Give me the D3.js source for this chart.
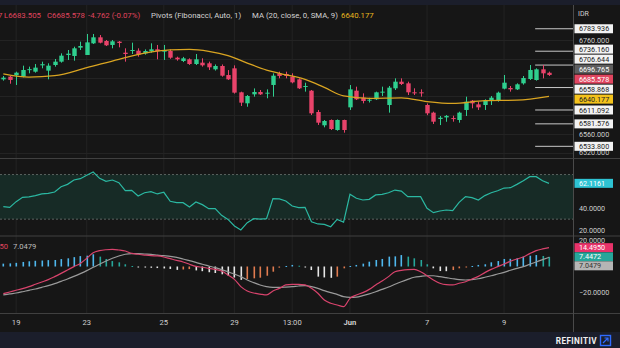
<!DOCTYPE html>
<html><head><meta charset="utf-8">
<script src="https://cdn.jsdelivr.net/npm/d3@7"></script>
<style>html,body{margin:0;padding:0;background:#161616;overflow:hidden}svg{display:block}text{font-family:Roboto,"Noto Sans",sans-serif}</style>
</head><body><svg id="c" width="620" height="348"></svg>
<script>
// ---------- DATA ----------
const opens=[6676.3,6682.0,6685.0,6682.0,6697.0,6692.6,6706.1,6694.8,6706.8,6713.9,6728.1,6726.0,6743.7,6728.1,6752.9,6765.7,6757.9,6749.4,6756.5,6733.0,6737.3,6737.3,6731.6,6735.9,6740.2,6735.2,6736.6,6722.4,6715.3,6718.9,6708.9,6711.8,6710.4,6697.6,6704.7,6685.5,6699.7,6648.7,6625.3,6644.4,6649.4,6646.5,6664.3,6689.0,6687.7,6682.0,6676.3,6660.7,6652.2,6606.8,6578.5,6589.8,6568.5,6589.8,6616.7,6652.2,6637.3,6631.0,6633.8,6648.7,6621.7,6657.2,6671.3,6667.8,6648.7,6648.7,6621.7,6605.4,6592.0,6595.3,6593.9,6589.8,6611.1,6630.9,6623.0,6621.7,6630.9,6632.3,6656.5,6657.9,6655.0,6667.8,6677.0,6674.9,6697.6,6690.3];
const highs=[6683.4,6683.4,6692.6,6705.4,6703.3,6708.9,6713.9,6710.4,6719.6,6731.6,6738.7,6745.8,6756.5,6772.8,6772.8,6770.6,6760.0,6760.0,6757.9,6742.3,6754.3,6742.3,6740.0,6752.9,6749.4,6749.4,6740.0,6724.5,6724.0,6721.0,6730.2,6721.0,6714.0,6708.0,6708.0,6696.0,6706.0,6650.0,6643.0,6657.0,6653.6,6655.0,6689.0,6692.6,6692.6,6689.1,6678.4,6669.2,6653.6,6611.1,6589.8,6591.0,6591.0,6590.5,6664.2,6660.7,6646.5,6637.0,6650.1,6660.7,6662.1,6678.4,6678.4,6671.3,6657.2,6655.0,6625.0,6607.5,6598.3,6600.4,6598.9,6607.5,6639.4,6632.3,6628.8,6633.8,6640.8,6650.1,6685.5,6662.1,6667.8,6683.4,6706.8,6699.7,6706.8,6692.7];
const lows=[6673.5,6667.0,6664.3,6680.6,6689.1,6690.5,6699.7,6676.3,6703.3,6711.8,6717.5,6716.0,6738.7,6728.1,6751.5,6752.9,6747.2,6742.3,6744.4,6713.9,6730.2,6724.5,6728.8,6733.0,6718.9,6717.5,6720.0,6716.0,6713.0,6707.0,6706.8,6703.3,6696.2,6695.0,6682.0,6675.0,6646.0,6619.6,6618.0,6639.4,6643.0,6636.0,6639.4,6678.5,6678.4,6667.8,6655.7,6650.1,6600.4,6579.2,6574.2,6568.5,6567.0,6562.8,6611.1,6632.3,6625.2,6627.0,6632.3,6640.8,6605.4,6653.6,6664.2,6643.0,6643.0,6639.4,6600.0,6581.3,6579.0,6586.0,6586.2,6584.1,6598.3,6614.6,6611.1,6611.1,6621.7,6628.8,6655.0,6650.1,6653.6,6665.0,6674.9,6673.5,6678.4,6683.505];
const closes=[6679.9,6675.0,6690.5,6696.2,6698.0,6701.2,6708.5,6705.4,6713.9,6726.7,6730.9,6742.3,6747.2,6755.0,6765.7,6754.3,6748.7,6757.2,6753.6,6730.2,6738.7,6728.8,6736.6,6740.2,6735.9,6738.7,6722.4,6718.9,6721.0,6708.9,6718.9,6706.1,6701.9,6704.7,6684.1,6676.3,6648.0,6626.7,6640.9,6649.4,6644.4,6647.9,6684.1,6683.4,6683.4,6669.9,6657.2,6662.1,6604.0,6584.1,6587.7,6570.6,6589.8,6568.5,6655.0,6633.8,6630.2,6633.0,6648.7,6650.1,6658.6,6671.3,6666.4,6648.7,6646.5,6646.5,6604.0,6586.2,6594.6,6598.5,6591.8,6605.4,6628.8,6625.2,6616.7,6630.9,6637.3,6647.9,6669.2,6655.0,6665.7,6679.1,6696.2,6697.6,6689.1,6685.578];
const maIndex=[0,4,8,13,18,22,26,29,32,35,38,41,43,47,50,53,57,62,66,70,75,80,85];
const maValues=[6688,6681,6684,6701,6719,6732,6739,6740,6736,6727,6711,6696,6689,6676,6659,6641,6636,6637,6629,6625,6631,6632,6640.177];
const pivotLevels=[6783.936,6736.160,6706.644,6658.868,6611.092,6581.576,6533.800];
const pivotStartIndex=83;
const priceGrid=[6760,6720,6680,6640,6600,6560,6520];
const priceTickLabels=[6760,6560,6520];
const lastClose=6685.578, maLast=6640.177, markerLevel=6696.765;
const rsi=[41.2,40.6,45.7,49.6,49.9,51.1,52.6,53.1,54.3,59.1,61.2,65.1,66.3,69.3,72.3,66.6,63.9,65.1,62.7,55.5,55.8,50.7,53.7,54.6,52.6,54.1,46.0,44.8,44.8,40.9,45.4,43.0,39.4,39.4,33.4,29.8,23.9,20.3,26.8,30.4,30.1,30.4,48.4,48.1,46.3,41.8,40.3,40.6,27.7,25.7,25.3,23.2,29.8,27.4,52.3,48.7,47.2,47.8,51.7,52.3,53.7,56.1,55.2,50.2,50.2,50.2,39.7,35.8,37.3,38.2,37.6,45.1,50.2,49.3,47.2,51.1,53.7,55.5,57.9,58.2,61.2,64.5,68.1,68.1,64.5,62.1161];
const rsiBand=[30,70];
const rsiTickLabels=[40,20];
const macd=[-20.9,-19.6,-18.3,-17.0,-15.5,-13.7,-11.9,-10.1,-7.8,-5.3,-2.7,-0.1,2.4,6.3,10.6,12.2,12.9,13.2,12.7,11.9,10.1,9.4,8.8,8.3,8.1,7.3,6.0,4.7,3.5,1.7,0.1,-0.6,-1.4,-2.2,-3.5,-6.5,-9.9,-15.5,-18.8,-20.4,-21.2,-21.9,-18.8,-16.8,-14.2,-13.7,-13.7,-14.2,-16.8,-20.6,-25.8,-28.3,-29.6,-30.9,-24.5,-21.9,-20.1,-17.6,-14.2,-11.2,-7.8,-4.0,-3.0,-2.4,-2.2,-4.0,-7.1,-10.4,-12.9,-14.0,-14.2,-12.9,-11.7,-9.6,-7.6,-4.7,-2.2,-0.1,1.9,4.0,5.8,7.3,9.9,12.2,13.5,14.495];
const signal=[-21.9,-21.1,-20.4,-19.4,-18.3,-17.3,-16.0,-14.7,-13.2,-11.4,-9.6,-7.6,-5.5,-3.2,-0.6,1.7,4.2,6.3,8.1,9.4,9.9,9.9,9.6,9.4,8.8,8.3,7.8,7.0,5.8,4.5,3.2,1.7,0.4,-0.9,-2.4,-4.0,-5.8,-7.8,-10.4,-12.4,-14.2,-15.5,-16.0,-16.0,-15.8,-15.5,-15.0,-14.7,-15.5,-16.8,-18.6,-20.1,-21.4,-23.2,-23.7,-23.5,-22.4,-21.1,-19.4,-17.6,-15.8,-13.7,-11.7,-9.9,-8.3,-7.6,-7.1,-7.1,-7.8,-8.6,-9.4,-10.1,-10.4,-10.1,-9.4,-8.3,-7.1,-5.8,-4.5,-2.9,-1.4,-0.1,1.7,3.5,5.3,7.0479];
const hist=[2.2,2.4,2.8,3.5,4.0,4.4,4.6,4.9,5.0,5.7,6.3,7.2,8.0,8.3,9.4,7.6,5.8,4.2,3.2,1.7,0.4,-0.3,-0.8,-1.0,-1.2,-1.5,-1.9,-2.6,-2.3,-2.0,-3.0,-3.6,-4.4,-5.0,-6.0,-7.0,-8.5,-10.3,-9.6,-9.1,-8.6,-7.1,-4.0,-0.9,0.4,1.2,0.6,-0.1,-2.7,-7.8,-8.4,-8.7,-7.8,-1.4,0.4,1.2,2.2,3.7,5.0,5.8,7.6,7.8,8.8,7.6,6.3,5.0,1.7,-1.4,-3.5,-3.6,-2.7,-1.4,-0.6,0.4,1.2,1.7,3.2,4.2,5.8,5.9,6.3,7.6,8.3,8.8,8.1,7.4472];
const macdTickLabels=[20,-20];
const tickIndex=[2,13,25,36,45,54,66,78];
const tickLabels=["19","23","25","29","13:00","Jun","7","9"];
const boldTicks=["Jun"];

// ---------- LAYOUT ----------
const W=620,H=348,AX=573.5,n=closes.length;
const svg=d3.select('#c');
const P={t:5,b:158.5},R={t:159.5,b:236},M={t:237,b:313.5};
const x=d3.scaleLinear().domain([0,n-1]).range([3.3,549]);
const yP=d3.scaleLinear().domain([6520,6760]).range([152.8,40]);
const yR=d3.scaleLinear().domain([20,40]).range([230.3,208]);
const yM=d3.scaleLinear().domain([-20,20]).range([292.5,240.5]);
const UP='#2fcf8f',DN='#e8436a';

svg.append('rect').attr('width',W).attr('height',H).attr('fill','#161616');
svg.append('rect').attr('width',W).attr('height',5).attr('fill','#1b1e2b');
svg.append('rect').attr('y',332).attr('width',W).attr('height',16).attr('fill','#1b1e2b');

const defs=svg.append('defs');
function clip(id,p){defs.append('clipPath').attr('id',id).append('rect').attr('x',0).attr('y',p.t).attr('width',AX).attr('height',p.b-p.t);}
clip('cp',P);clip('cr',R);clip('cm',M);

// vertical grid
svg.append('g').selectAll('line').data(tickIndex).join('line')
 .attr('x1',d=>x(d)).attr('x2',d=>x(d)).attr('y1',P.t).attr('y2',M.b)
 .attr('stroke','#232323').attr('stroke-width',1);

// ---------- PRICE PANE ----------
const gp=svg.append('g').attr('clip-path','url(#cp)');
gp.selectAll('line.hg').data(priceGrid).join('line').attr('class','hg')
 .attr('x1',0).attr('x2',AX).attr('y1',d=>Math.round(yP(d))+0.5).attr('y2',d=>Math.round(yP(d))+0.5)
 .attr('stroke','#232323');
gp.selectAll('line.pv').data(pivotLevels).join('line').attr('class','pv')
 .attr('x1',x(pivotStartIndex)-1).attr('x2',AX).attr('y1',d=>yP(d)).attr('y2',d=>yP(d))
 .attr('stroke','#c8c8c8').attr('stroke-width',1);
const idx=d3.range(n);
gp.selectAll('line.wk').data(idx).join('line').attr('class','wk')
 .attr('x1',i=>Math.round(x(i))+0.5).attr('x2',i=>Math.round(x(i))+0.5)
 .attr('y1',i=>yP(highs[i])).attr('y2',i=>yP(lows[i]))
 .attr('stroke',i=>closes[i]>=opens[i]?UP:DN).attr('stroke-width',1);
gp.selectAll('rect.bd').data(idx).join('rect').attr('class','bd')
 .attr('x',i=>Math.round(x(i))-1.7).attr('width',4.4)
 .attr('y',i=>yP(Math.max(opens[i],closes[i])))
 .attr('height',i=>Math.max(1,Math.abs(yP(opens[i])-yP(closes[i]))))
 .attr('fill',i=>closes[i]>=opens[i]?UP:DN);
gp.append('path').datum(maIndex.map((d,k)=>[d,maValues[k]]))
 .attr('d',d3.line().x(d=>x(d[0])).y(d=>yP(d[1])).curve(d3.curveMonotoneX))
 .attr('fill','none').attr('stroke','#d9a421').attr('stroke-width',1.3);

// ---------- RSI PANE ----------
const gr=svg.append('g').attr('clip-path','url(#cr)');
gr.append('rect').attr('x',0).attr('width',AX).attr('y',yR(rsiBand[1])).attr('height',yR(rsiBand[0])-yR(rsiBand[1])).attr('fill','#172b26');
gr.selectAll('line.bl').data(rsiBand).join('line').attr('class','bl')
 .attr('x1',0).attr('x2',AX).attr('y1',d=>yR(d)).attr('y2',d=>yR(d))
 .attr('stroke','#5a6360').attr('stroke-dasharray','2,2');
gr.append('path').datum(rsi).attr('d',d3.line().x((d,i)=>x(i)).y(d=>yR(d)))
 .attr('fill','none').attr('stroke','#2bb8a2').attr('stroke-width',1.2);

// ---------- MACD PANE ----------
const gm=svg.append('g').attr('clip-path','url(#cm)');
function hcol(i){const v=hist[i],p=i>0?hist[i-1]:v; if(v>=0) return v>=p?'#4fb8ee':'#26a69a'; return v<p?'#e6e6e6':'#e07b4f';}
gm.selectAll('rect.hb').data(idx).join('rect').attr('class','hb')
 .attr('x',i=>Math.round(x(i))-0.5).attr('width',1.6)
 .attr('y',i=>Math.min(yM(hist[i]),yM(0))).attr('height',i=>Math.max(1,Math.abs(yM(hist[i])-yM(0))))
 .attr('fill',i=>hcol(i));
gm.append('path').datum(signal).attr('d',d3.line().x((d,i)=>x(i)).y(d=>yM(d)).curve(d3.curveMonotoneX))
 .attr('fill','none').attr('stroke','#9a9a9a').attr('stroke-width',1.2);
gm.append('path').datum(macd).attr('d',d3.line().x((d,i)=>x(i)).y(d=>yM(d)).curve(d3.curveMonotoneX))
 .attr('fill','none').attr('stroke','#d8436c').attr('stroke-width',1.2);

// separators and axis line
[P.b,R.b,M.b].forEach(y=>svg.append('line').attr('x1',0).attr('x2',W).attr('y1',y).attr('y2',y).attr('stroke','#404040'));
svg.append('line').attr('x1',AX).attr('x2',AX).attr('y1',5).attr('y2',332).attr('stroke','#4a4a4a');

// ---------- AXIS LABELS ----------
const FS=7.2;
function plain(y,t){svg.append('text').attr('x',579).attr('y',y+2.6).attr('font-size',FS).attr('fill','#cfcfcf').text(t);}
function boxed(y,t,bg,fg){svg.append('rect').attr('x',574.5).attr('y',y-4.5).attr('width',38.5).attr('height',9).attr('fill',bg);
 svg.append('text').attr('x',579).attr('y',y+2.6).attr('font-size',FS).attr('fill',fg).text(t);}
function spreadCentered(items,gap){items.sort((a,b)=>a.y0-b.y0);let cl=items.map(d=>({m:[d],c:d.y0}));
 let changed=true;while(changed){changed=false;for(let k=0;k<cl.length-1;k++){const a=cl[k],b=cl[k+1];
  const aBot=a.c+(a.m.length-1)*gap/2,bTop=b.c-(b.m.length-1)*gap/2;
  if(bTop-aBot<gap){const m=a.m.concat(b.m);const c=d3.mean(m,d=>d.y0);cl.splice(k,2,{m,c});changed=true;break;}}}
 cl.forEach(c=>c.m.forEach((d,j)=>d.y=c.c-(c.m.length-1)*gap/2+j*gap));return items;}
function spreadDown(items,gap){items.sort((a,b)=>a.y0-b.y0);let prev=-1e9;items.forEach(d=>{d.y=Math.max(d.y0,prev+gap);prev=d.y;});return items;}

priceTickLabels.forEach(v=>plain(yP(v),d3.format('.3f')(v)));
const pl=pivotLevels.map(v=>({y0:yP(v),t:d3.format('.3f')(v),bg:'#f2f2f2',fg:'#222'}));
pl.push({y0:yP(markerLevel),t:d3.format('.3f')(markerLevel),bg:'#5e5e5e',fg:'#fff'});
pl.push({y0:yP(lastClose),t:d3.format('.3f')(lastClose),bg:'#e0455f',fg:'#fff'});
pl.push({y0:yP(maLast),t:d3.format('.3f')(maLast),bg:'#f3c21b',fg:'#222'});
spreadCentered(pl,10).forEach(d=>boxed(d.y,d.t,d.bg,d.fg));
svg.append('rect').attr('x',574).attr('y',P.b+0.5).attr('width',46).attr('height',R.t-P.b).attr('fill','#161616');
svg.append('line').attr('x1',0).attr('x2',W).attr('y1',P.b).attr('y2',P.b).attr('stroke','#404040');

rsiTickLabels.forEach(v=>plain(yR(v),d3.format('.4f')(v)));
boxed(yR(rsi[n-1]),d3.format('.4f')(rsi[n-1]),'#2ec3d3','#fff');

macdTickLabels.forEach(v=>plain(yM(v),d3.format('.4f')(v)));
const ml=[{y0:yM(macd[n-1]),t:d3.format('.4f')(macd[n-1]),bg:'#e8336a',fg:'#fff'},
 {y0:yM(hist[n-1]),t:d3.format('.4f')(hist[n-1]),bg:'#26a69a',fg:'#fff'},
 {y0:yM(signal[n-1]),t:d3.format('.4f')(signal[n-1]),bg:'#b5b5b5',fg:'#333'}];
spreadDown(ml,9).forEach(d=>boxed(d.y,d.t,d.bg,d.fg));

// x axis labels
svg.append('g').selectAll('text').data(tickIndex).join('text')
 .attr('x',d=>x(d)).attr('y',325).attr('text-anchor','middle').attr('font-size',7.6)
 .attr('font-weight',(d,k)=>boldTicks.includes(tickLabels[k])?'bold':'normal')
 .attr('fill','#cfcfcf').text((d,k)=>tickLabels[k]);

// ---------- HEADERS ----------
const hy=18,hf=7.8;
function ht(xp,t,c,anchor){svg.append('text').attr('x',xp).attr('y',hy).attr('font-size',hf).attr('fill',c).attr('text-anchor',anchor||'start').text(t);}
ht(2.5,'O6690.340 H6692.717','#e0455f','end');
ht(4,'L6683.505','#e0455f');
ht(47,'C6685.578','#e0455f');
ht(88,'-4.762 (-0.07%)','#e0455f');
ht(151,'Pivots (Fibonacci, Auto, 1)','#d4d4d4');
ht(252,'MA (20, close, 0, SMA, 9)','#d4d4d4');
ht(341,'6640.177','#e8b71f');
svg.append('text').attr('x',578).attr('y',16).attr('font-size',7).attr('fill','#d0d0d0').text('IDR');
svg.append('text').attr('x',8).attr('y',249).attr('font-size',7.6).attr('fill','#e0455f').attr('text-anchor','end').text(d3.format('.4f')(macd[n-1]));
svg.append('text').attr('x',13).attr('y',249).attr('font-size',7.6).attr('fill','#bdbdbd').text(d3.format('.4f')(signal[n-1]));

// footer
svg.append('text').attr('x',597).attr('y',343.5).attr('text-anchor','end').attr('font-size',8.2).attr('font-weight','bold').attr('fill','#f0f0f0').attr('letter-spacing',0.4).text('REFINITIV');
svg.append('rect').attr('x',600.5).attr('y',335.5).attr('width',10).attr('height',10).attr('fill','none').attr('stroke','#2f6bff').attr('stroke-width',1.4);
svg.append('path').attr('d','M603,343 L608,338 M604.5,338 L608,338 L608,341.5').attr('stroke','#2f6bff').attr('stroke-width',1.2).attr('fill','none');
</script></body></html>
